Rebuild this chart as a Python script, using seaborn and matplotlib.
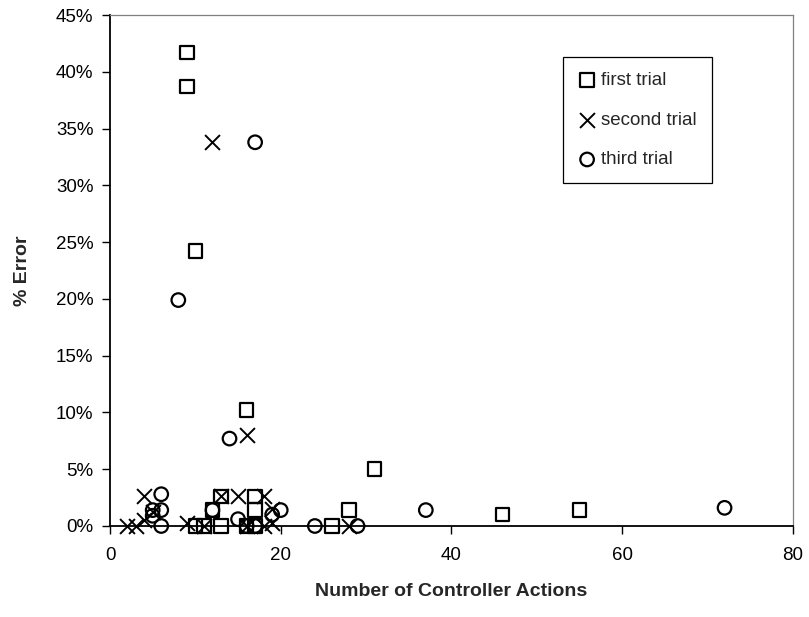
import matplotlib
matplotlib.use("Agg")
import matplotlib.pyplot as plt
import seaborn as sns
import pandas as pd
from matplotlib.ticker import FuncFormatter, MultipleLocator

sns.set_theme(style="white")
plt.rcParams["font.family"] = ["Liberation Sans", "DejaVu Sans"]

# Number of controller actions and percent error for each trial
first_x = [9, 9, 10, 16, 31, 17, 13, 12, 17, 28, 46, 55, 26, 10, 11, 13, 16, 17]
first_y = [41.7, 38.7, 24.2, 10.2, 5.0, 2.6, 2.6, 1.4, 1.4, 1.4, 1.0, 1.4, 0.0, 0.0, 0.0, 0.0, 0.0, 0.0]

second_x = [12, 16, 2, 3, 4, 4, 5, 9, 13, 15, 18, 19, 19, 28, 16, 18, 11]
second_y = [33.8, 8.0, 0.0, 0.0, 2.6, 0.5, 1.2, 0.3, 2.6, 2.6, 2.6, 1.5, 0.3, 0.0, 0.0, 0.0, 0.0]

third_x = [17, 8, 14, 72, 37, 24, 29, 6, 6, 6, 5, 5, 12, 15, 16, 17, 19, 20]
third_y = [33.8, 19.9, 7.7, 1.6, 1.4, 0.0, 0.0, 2.8, 1.4, 0.0, 1.4, 0.9, 1.4, 0.6, 0.0, 0.0, 1.0, 1.4]

trials = ["first trial", "second trial", "third trial"]

df = pd.concat([
    pd.DataFrame({"actions": first_x, "error": first_y, "trial": trials[0]}),
    pd.DataFrame({"actions": second_x, "error": second_y, "trial": trials[1]}),
    pd.DataFrame({"actions": third_x, "error": third_y, "trial": trials[2]}),
])

fig = plt.figure(figsize=(8.09, 6.17), dpi=100)
ax = fig.add_axes([0.136, 0.1475, 0.844, 0.828])

styles = {
    "first trial": dict(marker="s", s=95, facecolor="none", edgecolor="black", linewidth=1.6),
    "second trial": dict(marker="x", s=115, color="black", linewidth=1.4),
    "third trial": dict(marker="o", s=95, facecolor="none", edgecolor="black", linewidth=1.6),
}
for t in trials:
    sub = df[df["trial"] == t]
    sns.scatterplot(data=sub, x="actions", y="error", ax=ax, label=t,
                    zorder=3, clip_on=False, **styles[t])

ax.set_xlim(0, 80)
ax.set_ylim(0, 45)
ax.xaxis.set_major_locator(MultipleLocator(20))
ax.yaxis.set_major_locator(MultipleLocator(5))
ax.yaxis.set_major_formatter(FuncFormatter(lambda v, p: f"{v:.0f}%"))

ax.tick_params(axis="both", which="major", direction="out", length=6, width=1,
               color="black", labelsize=13.5, labelcolor="black")
ax.tick_params(axis="x", bottom=True, pad=9)
ax.tick_params(axis="y", left=True, pad=6)

for side in ("left", "bottom"):
    ax.spines[side].set_color("black")
    ax.spines[side].set_linewidth(1.3)
for side in ("top", "right"):
    ax.spines[side].set_color("#808080")
    ax.spines[side].set_linewidth(0.9)

ax.set_xlabel("Number of Controller Actions", fontsize=14, fontweight="bold", labelpad=14)
ax.set_ylabel("% Error", fontsize=14, fontweight="bold", labelpad=18)

leg = ax.legend(loc="upper left", bbox_to_anchor=(0.663, 0.918), fancybox=False,
                edgecolor="black", framealpha=1, fontsize=13.5, handletextpad=0.25,
                handlelength=1.0, borderpad=0.8, labelspacing=1.2, borderaxespad=0)
leg.get_frame().set_linewidth(0.9)

fig.savefig("out.png", dpi=100)
